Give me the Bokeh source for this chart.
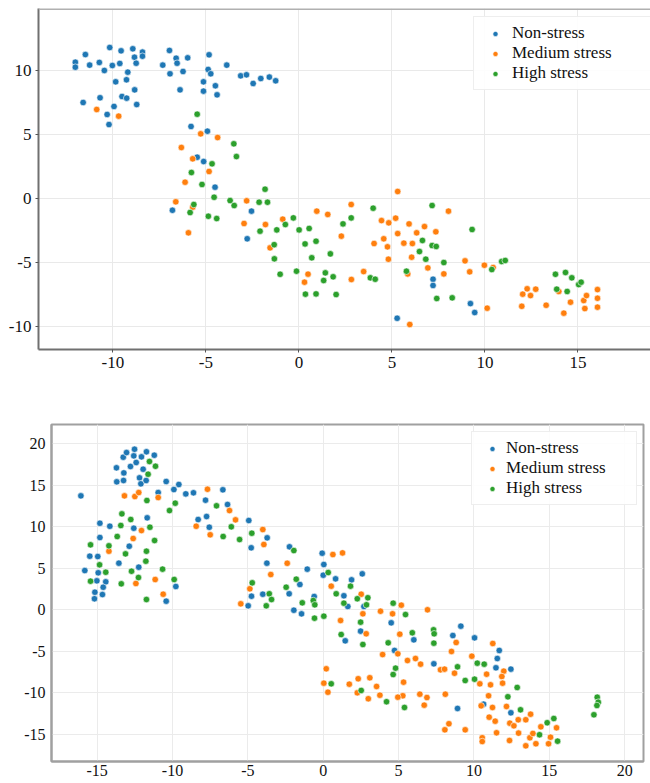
from bokeh.plotting import figure
from bokeh.models import Range1d, FixedTicker, Span, CustomJSTickFormatter
from bokeh.embed import file_html
from bokeh.resources import INLINE

# ---------------- data ----------------
series_names = ["Non-stress", "Medium stress", "High stress"]
series_colors = ["#1f77b4", "#ff7f0e", "#2ca02c"]

top_non_stress = [
    (-12.02, 10.69), (-12.02, 10.30), (-11.48, 11.29), (-11.25, 10.46), (-10.73, 10.67),
    (-10.46, 10.04), (-10.17, 11.84), (-10.03, 10.43), (-9.85, 9.15), (-9.63, 10.59),
    (-9.56, 11.58), (-9.27, 9.31), (-9.20, 9.91), (-8.93, 11.74), (-8.84, 11.08),
    (-8.75, 10.61), (-8.83, 8.52), (-8.41, 11.48), (-8.41, 11.16), (-11.60, 7.53),
    (-10.69, 7.90), (-10.31, 6.59), (-9.94, 7.22), (-10.21, 5.80), (-9.51, 8.00),
    (-9.26, 7.87), (-8.72, 7.37), (-7.32, 10.46), (-6.96, 11.61), (-6.93, 9.78),
    (-6.60, 11.00), (-6.55, 10.61), (-6.23, 9.96), (-6.39, 8.52), (-5.98, 11.03),
    (-4.83, 11.27), (-4.88, 10.12), (-4.74, 9.78), (-5.13, 9.15), (-5.13, 8.42),
    (-4.49, 8.84), (-4.40, 8.13), (-3.88, 10.46), (-3.13, 9.62), (-2.82, 9.70),
    (-2.46, 9.02), (-2.05, 9.41), (-1.59, 9.52), (-1.25, 9.23), (-5.80, 5.65),
    (-4.92, 5.28), (-5.47, 3.24), (-5.12, 2.90), (-4.51, 0.89), (-6.80, -0.92),
    (-2.55, -0.99), (-2.78, -3.16), (7.21, -6.33), (7.21, -6.82), (5.28, -9.39),
    (9.22, -8.24), (9.45, -8.94),
]
top_medium_stress = [
    (-10.87, 6.98), (-9.69, 6.46), (-5.28, 5.07), (-4.37, 4.78), (-6.32, 4.00),
    (-5.71, 3.11), (-4.83, 2.12), (-6.12, 1.28), (-6.62, -0.26), (-5.71, -0.68),
    (-5.94, -2.69), (-2.81, -0.18), (-2.95, -1.96), (-1.80, -2.04), (-0.87, -1.62),
    (-1.55, -3.87), (0.96, -0.99), (1.55, -1.25), (0.49, -5.93), (0.30, -6.56),
    (2.28, -2.95), (5.31, 0.55), (2.81, -0.47), (4.44, -1.73), (4.83, -1.91),
    (5.20, -1.54), (5.31, -2.75), (5.92, -1.99), (6.33, -2.69), (6.75, -2.20),
    (7.36, -2.61), (8.04, -0.99), (4.04, -3.53), (4.56, -3.16), (4.76, -3.79),
    (5.64, -3.50), (6.10, -3.53), (6.06, -4.60), (4.81, -4.76), (3.48, -5.73),
    (2.82, -6.35), (5.85, -5.91), (6.93, -5.44), (7.79, -5.91), (8.93, -4.89),
    (9.18, -5.75), (9.97, -5.23), (10.44, -5.41), (10.12, -8.60), (5.96, -9.88),
    (12.03, -7.50), (12.27, -7.08), (12.45, -7.61), (12.73, -7.11), (11.98, -8.45),
    (13.29, -8.37), (13.97, -7.29), (14.60, -8.13), (14.24, -8.99), (15.31, -8.00),
    (15.46, -7.61), (15.37, -8.63), (16.05, -7.14), (16.05, -7.82), (16.05, -8.52),
]
top_high_stress = [
    (-5.47, 6.61), (-3.50, 4.29), (-3.36, 3.29), (-4.67, 2.72), (-5.78, 2.04),
    (-5.21, 1.10), (-1.82, 0.73), (-5.65, -0.47), (-5.85, -1.10), (-4.56, 0.10),
    (-4.87, -1.39), (-4.42, -1.57), (-3.70, -0.16), (-3.48, -0.55), (-2.14, -0.29),
    (-1.69, -0.29), (-2.09, -2.56), (-1.19, -2.46), (-0.73, -2.04), (-0.30, -1.52),
    (0.01, -2.46), (0.55, -2.35), (0.33, -3.56), (0.92, -3.35), (-1.33, -3.62),
    (-1.32, -4.73), (-1.01, -5.94), (-0.13, -5.70), (0.69, -4.65), (1.69, -4.34),
    (1.42, -5.83), (1.33, -6.43), (1.84, -6.14), (0.35, -7.50), (0.92, -7.48),
    (2.00, -7.53), (2.37, -1.99), (2.81, -1.52), (3.99, -0.76), (3.84, -6.22),
    (4.10, -6.33), (7.16, -0.55), (6.64, -3.29), (6.48, -4.16), (6.82, -4.76),
    (7.16, -3.69), (7.38, -3.76), (5.78, -5.70), (7.79, -5.02), (7.41, -7.84),
    (8.24, -7.79), (9.31, -2.43), (10.37, -5.57), (10.90, -4.94), (11.09, -4.86),
    (13.79, -5.94), (14.33, -5.80), (14.67, -6.22), (15.04, -6.75), (15.17, -6.56),
    (13.86, -7.11), (14.42, -7.29),
]

bottom_non_stress = [
    (-16.08, 13.73), (-15.82, 4.73), (-15.49, 6.46), (-14.96, 6.42), (-14.82, 8.71),
    (-14.82, 10.43), (-14.16, 10.07), (-14.93, 4.46), (-15.02, 3.49), (-14.43, 3.37),
    (-14.60, 2.72), (-15.15, 2.12), (-14.65, 1.84), (-15.18, 1.33), (-13.72, 17.11),
    (-13.27, 18.39), (-13.05, 18.95), (-13.23, 16.50), (-13.70, 15.42), (-13.25, 15.58),
    (-12.79, 17.27), (-12.52, 19.35), (-12.57, 18.55), (-12.41, 17.75), (-12.06, 18.43),
    (-11.95, 16.94), (-12.19, 15.90), (-12.10, 15.18), (-11.75, 15.58), (-11.73, 19.04),
    (-11.21, 18.63), (-10.95, 14.13), (-10.42, 15.46), (-9.91, 14.49), (-9.58, 15.10),
    (-9.12, 13.97), (-8.61, 14.10), (-12.57, 9.83), (-11.68, 11.08), (-12.87, 7.66),
    (-13.56, 5.62), (-12.24, 5.14), (-10.42, 1.04), (-9.78, 2.81), (-8.30, 10.88),
    (-7.74, 11.24), (-7.56, 9.95), (-7.81, 13.21), (-6.66, 14.46), (-6.35, 12.69),
    (-4.94, 10.76), (-4.78, 7.47), (-3.72, 8.67), (-3.74, 5.62), (-2.24, 7.59),
    (-1.55, 3.05), (-1.06, 4.90), (-0.07, 6.82), (0.04, 5.46), (0.00, 4.17),
    (-0.60, 1.60), (-4.76, 1.64), (-2.26, 1.93), (-4.01, 1.88), (-1.95, -0.05),
    (-4.98, 0.48), (-1.44, -0.49), (0.82, 3.73), (1.88, 3.61), (2.59, 4.33),
    (1.37, 1.69), (1.63, 0.40), (2.70, 0.40), (4.51, -1.57), (2.48, -2.57),
    (1.46, -3.74), (6.01, -3.62), (4.73, -4.90), (7.34, -6.51), (8.60, -3.10),
    (9.13, -1.97), (10.04, -3.38), (11.68, -4.90), (11.55, -5.87), (11.46, -6.99),
    (12.45, -7.15), (8.91, -11.89), (10.64, -11.37), (12.45, -12.41),
]
bottom_medium_stress = [
    (-13.19, 13.73), (-12.50, 13.65), (-12.24, 14.13), (-10.95, 13.53), (-12.06, 9.55),
    (-12.61, 8.59), (-14.22, 7.06), (-12.43, 3.17), (-11.15, 3.65), (-10.62, 1.88),
    (-7.68, 14.53), (-8.43, 10.07), (-7.50, 9.04), (-6.22, 11.96), (-5.82, 10.84),
    (-4.01, 9.67), (-3.94, 7.87), (-2.39, 5.61), (-3.48, 4.25), (-4.87, 2.53),
    (-5.47, 0.72), (0.64, 6.66), (1.28, 6.86), (0.53, 2.85), (2.52, 1.88),
    (5.18, 0.56), (0.20, -7.11), (0.04, -8.84), (0.31, -9.93), (3.80, -0.17),
    (4.60, -0.48), (6.92, 0.00), (1.15, -1.29), (2.63, -0.48), (2.85, -2.89),
    (5.08, -2.94), (8.82, -3.94), (8.51, -5.02), (3.94, -5.39), (4.95, -5.30),
    (5.59, -6.11), (6.12, -5.87), (6.46, -6.55), (7.78, -7.23), (8.05, -7.15),
    (8.71, -7.64), (9.86, -5.59), (10.84, -7.76), (11.25, -4.06), (11.98, -7.39),
    (11.85, -8.04), (11.90, -8.84), (10.39, -8.92), (11.10, -9.04), (10.97, -10.36),
    (10.48, -11.57), (11.23, -11.77), (11.01, -12.94), (11.41, -13.42), (11.50, -14.82),
    (10.55, -15.42), (10.55, -15.87), (12.16, -11.65), (12.38, -13.66), (12.65, -13.98),
    (12.94, -13.25), (12.96, -14.86), (12.36, -15.75), (13.44, -13.25), (13.76, -12.58),
    (13.71, -15.42), (13.91, -14.90), (13.44, -16.39), (14.11, -16.14), (14.44, -14.10),
    (15.48, -14.22), (15.08, -15.35), (14.95, -16.14), (8.34, -13.73), (8.07, -14.46),
    (9.42, -14.46), (8.10, -10.17), (6.70, -11.49), (6.88, -10.57), (6.41, -10.17),
    (5.28, -10.36), (4.95, -10.53), (5.33, -8.72), (3.54, -9.24), (3.76, -10.29),
    (3.09, -8.19), (2.32, -8.31), (1.73, -8.96), (2.26, -10.00), (2.99, -10.72),
]
bottom_high_stress = [
    (-15.44, 7.83), (-14.84, 5.42), (-14.43, 4.53), (-14.22, 7.71), (-15.44, 3.45),
    (-13.67, 8.83), (-13.43, 10.16), (-13.36, 11.56), (-13.12, 6.74), (-13.40, 3.13),
    (-12.77, 10.88), (-12.72, 4.65), (-12.26, 3.89), (-11.73, 7.06), (-11.77, 5.86),
    (-11.50, 9.95), (-11.70, 13.17), (-11.62, 16.34), (-11.53, 17.87), (-11.13, 17.30),
    (-11.19, 8.35), (-11.73, 1.24), (-10.66, 4.90), (-9.89, 3.65), (-10.20, 11.96),
    (-9.82, 12.85), (-7.08, 12.53), (-6.64, 8.83), (-6.10, 10.00), (-5.55, 8.47),
    (-4.74, 9.23), (-4.71, 3.25), (-3.78, 0.48), (-3.58, 1.93), (-3.43, 1.24),
    (-2.46, 2.72), (-1.79, 3.69), (-1.95, 7.14), (-1.39, 0.84), (-0.66, 1.12),
    (-0.56, 0.60), (-0.58, -1.01), (0.04, -0.77), (0.33, 4.49), (1.81, 2.85),
    (0.86, 1.93), (1.37, 0.80), (2.26, 1.33), (2.96, 1.45), (4.64, 0.80),
    (2.87, 0.60), (5.46, -0.57), (2.48, -1.49), (1.19, -2.98), (2.63, -4.18),
    (4.31, -3.98), (5.91, -2.77), (7.32, -2.41), (7.36, -2.89), (7.34, -4.02),
    (4.80, -7.03), (4.64, -7.80), (2.52, -9.72), (0.53, -8.92), (4.20, -11.08),
    (5.39, -11.77), (8.91, -6.87), (9.42, -8.52), (10.04, -8.36), (10.22, -6.43),
    (10.68, -6.55), (12.87, -9.36), (12.25, -10.48), (13.09, -12.05), (14.86, -13.61),
    (15.30, -13.10), (14.35, -15.06), (15.55, -15.83), (17.96, -12.65), (18.18, -10.53),
    (18.25, -11.13), (18.16, -11.53),
]

top_x_ticks = [-10, -5, 0, 5, 10, 15]
top_y_ticks = [-10, -5, 0, 5, 10]
bottom_x_ticks = [-15, -10, -5, 0, 5, 10, 15, 20]
bottom_y_ticks = [-15, -10, -5, 0, 5, 10, 15, 20]

FONT = "Liberation Serif"
hyphen_fmt = "return String(tick);"


def add_series(p, series_list):
    for pts, name, col in zip(series_list, series_names, series_colors):
        xs = [a for a, b in pts]
        ys = [b for a, b in pts]
        p.scatter(xs, ys, size=6.5, fill_color=col, line_color="white",
                  line_width=0.6, legend_label=name)


def style_legend(p, loc, glyph_w, standoff, label_w):
    lg = p.legend[0]
    lg.location = loc
    lg.label_text_font = FONT
    lg.label_text_font_size = "17px"
    lg.label_text_color = "#111111"
    lg.label_height = 20
    lg.glyph_height = 13
    lg.glyph_width = glyph_w
    lg.label_standoff = standoff
    lg.label_width = label_w
    lg.spacing = 0
    lg.padding = 6
    lg.border_line_color = "#dddddd"
    lg.border_line_width = 1
    lg.background_fill_alpha = 0.9


def style_axis(ax, color, width, tick_out, font_size, standoff):
    ax.axis_line_color = color
    ax.axis_line_width = width
    ax.major_tick_line_color = "#555555" if tick_out else None
    ax.major_tick_out = tick_out
    ax.major_tick_in = 0
    ax.minor_tick_line_color = None
    ax.major_label_text_font = FONT
    ax.major_label_text_font_size = font_size
    ax.major_label_text_color = "#111111"
    ax.major_label_standoff = standoff
    ax.formatter = CustomJSTickFormatter(code=hyphen_fmt)


# ---------------- top chart ----------------
p1 = figure(width=650, height=377, output_backend="svg", toolbar_location=None,
            x_range=Range1d(-14.0, 18.9), y_range=Range1d(-11.84, 14.9),
            min_border_left=38, min_border_right=0, min_border_top=8,
            min_border_bottom=28)
add_series(p1, [top_non_stress, top_medium_stress, top_high_stress])
p1.xaxis.ticker = FixedTicker(ticks=top_x_ticks)
p1.yaxis.ticker = FixedTicker(ticks=top_y_ticks)
p1.outline_line_color = None
p1.add_layout(Span(location=14.9, dimension="width", line_color="#b0b0b0",
                   line_width=3))
style_axis(p1.xaxis[0], "#707070", 2, 3, "17px", 4)
style_axis(p1.yaxis[0], "#707070", 2, 3, "17px", 4)
p1.grid.grid_line_color = "#e9e9e9"
p1.grid.grid_line_width = 1
style_legend(p1, (435, 259), 30, 2, 136)

# ---------------- bottom chart ----------------
p2 = figure(width=650, height=406, output_backend="svg", toolbar_location=None,
            x_range=Range1d(-18.03, 21.25), y_range=Range1d(-18.28, 22.33),
            min_border_left=51, min_border_right=7, min_border_top=47,
            min_border_bottom=22)
add_series(p2, [bottom_non_stress, bottom_medium_stress, bottom_high_stress])
p2.xaxis.ticker = FixedTicker(ticks=bottom_x_ticks)
p2.yaxis.ticker = FixedTicker(ticks=bottom_y_ticks)
p2.outline_line_color = "#a0a0a0"
p2.outline_line_width = 2
style_axis(p2.xaxis[0], "#a0a0a0", 2, 0, "16px", 3)
style_axis(p2.yaxis[0], "#a0a0a0", 2, 0, "16px", 6)
p2.grid.grid_line_color = "#ebebeb"
p2.grid.grid_line_width = 1
style_legend(p2, (420, 256), 28, 0, 124)

# two separate roots, stacked on the page (no frame alignment between them)
open("out.html", "w").write(file_html([p1, p2], INLINE))
